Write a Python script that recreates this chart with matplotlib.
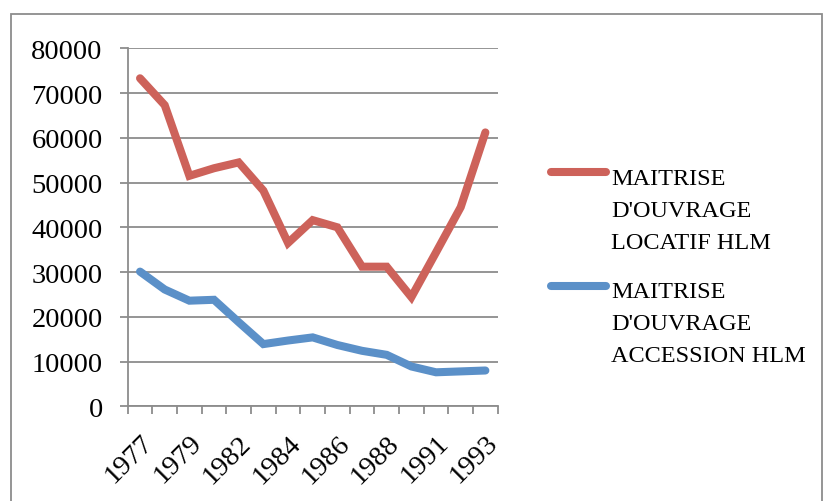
import numpy as np
import matplotlib.pyplot as plt
from matplotlib.lines import Line2D
from matplotlib.patches import Rectangle

# Données
annees = ['1977', '1978', '1979', '1980', '1982', '1983', '1984', '1985',
          '1986', '1987', '1988', '1989', '1991', '1992', '1993']
locatif = [73300, 67300, 51500, 53200, 54500, 48200, 36500, 41600,
           40000, 31200, 31200, 24400, 34400, 44500, 61200]
accession = [30100, 26100, 23600, 23800, 18800, 13900, 14700, 15400,
             13700, 12400, 11500, 8900, 7600, 7800, 8000]
noms = [["MAITRISE", "D'OUVRAGE", "LOCATIF HLM"],
        ["MAITRISE", "D'OUVRAGE", "ACCESSION HLM"]]
couleurs = ['#CD625A', '#5B90C8']

plt.rcParams['font.family'] = ['Liberation Serif', 'DejaVu Serif']

fig = plt.figure(figsize=(8.26, 5.02), dpi=100)
W, H = 826, 502
ax = fig.add_axes([127.7 / W, 1 - 407.3 / H, 370 / W, 358 / H])

x = np.arange(len(annees))
ax.plot(x, locatif, color=couleurs[0], lw=5.8, solid_capstyle='round', solid_joinstyle='miter')
ax.plot(x, accession, color=couleurs[1], lw=5.8, solid_capstyle='round', solid_joinstyle='miter')

ax.set_xlim(-0.5, len(annees) - 0.5)
ax.set_ylim(0, 80000)
ax.set_yticks(np.arange(0, 80001, 10000))
ax.set_yticklabels([str(v) for v in range(0, 80001, 10000)], fontsize=20.5)
ax.yaxis.grid(True, color='#8c8c8c', lw=1.3)
ax.set_axisbelow(True)

# graduations entre les catégories, étiquettes une sur deux
ax.set_xticks(np.arange(-0.5, len(annees), 1.0))
ax.set_xticklabels([])
ax.set_xticks(x[::2], minor=True)
ax.set_xticklabels(annees[::2], minor=True, rotation=45, ha='right',
                   rotation_mode='anchor', fontsize=20.5)
ax.tick_params(axis='x', which='major', length=6, width=1.3, color='#8c8c8c', direction='out')
ax.tick_params(axis='x', which='minor', length=0, pad=17)
ax.tick_params(axis='y', length=6, width=1.3, color='#8c8c8c', pad=12)

for s in ['top', 'right']:
    ax.spines[s].set_visible(False)
for s in ['left', 'bottom']:
    ax.spines[s].set_color('#8c8c8c')
    ax.spines[s].set_linewidth(1.3)

# légende dessinée à la main
for i, (nom, c) in enumerate(zip(noms, couleurs)):
    yl = 173 + i * 114
    fig.add_artist(Line2D([551 / W, 606 / W], [1 - yl / H, 1 - yl / H], color=c,
                          lw=5.8, solid_capstyle='round'))
    for j, ligne in enumerate(nom):
        yb = 185 + i * 113 + j * 32
        fig.text(611 / W, 1 - yb / H, ligne, fontsize=17.5, va='baseline', ha='left')

# cadre extérieur
fig.add_artist(Rectangle((11 / W, -0.1), 811 / W, 1.1 - 15 / H, fill=False,
                         edgecolor='#8c8c8c', lw=1.3, transform=fig.transFigure))

fig.savefig('out.png', dpi=100)
